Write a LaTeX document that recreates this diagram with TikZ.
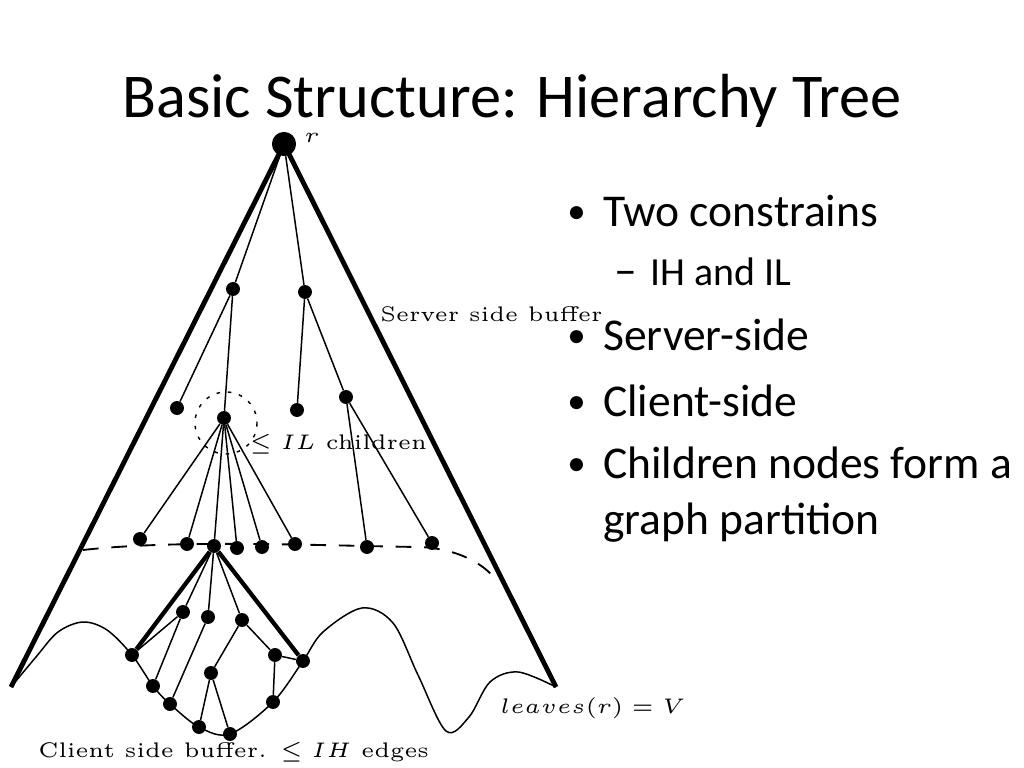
\documentclass[tikz,border=0pt]{standalone}
\usepackage{fontspec}
\usepackage{graphicx}
\newfontfamily\slidefont{Carlito}
\newcommand{\cmtext}[1]{\scalebox{2.97}{\tiny #1}}

\begin{document}
\begin{tikzpicture}[
  x=0.703125pt, y=-0.703125pt,
  dot/.style={circle,fill,inner sep=0pt,minimum size=9.8pt},
  rootdot/.style={dot,minimum size=17pt},
  tedge/.style={line width=1.05pt},
  fatedge/.style={line width=3pt},
  hull/.style={line width=3.4pt,line join=miter},
  cut/.style={line width=1.3pt,dash pattern=on 11pt off 9pt},
  ring/.style={line width=1pt,dash pattern=on 2.5pt off 5.5pt},
  cmlabel/.style={inner sep=0pt,anchor=base west},
  slidetitle/.style={inner sep=0pt,anchor=base,font=\slidefont\fontsize{43.8}{53}\selectfont},
  item/.style={inner sep=0pt,anchor=base west,font=\slidefont\fontsize{32}{38}\selectfont},
  subitem/.style={item,font=\slidefont\fontsize{28}{34}\selectfont},
  bulletmark/.style={item,font=\slidefont\fontsize{26}{31}\selectfont},
]
\useasboundingbox (0,0) rectangle (1024,768);

% title
\node[slidetitle] (title) at (512,118) {Basic Structure: Hierarchy Tree};

% server side of the tree
\node[rootdot] (r) at (284,144) {};
\node[dot] (a) at (233,289) {};
\node[dot] (b) at (305,292) {};
\node[dot] (c) at (177,408) {};
\node[dot] (d) at (224,418) {};
\node[dot] (e) at (297,410) {};
\node[dot] (f) at (346,397) {};
\foreach \n/\x/\y in {g1/140/539, g2/187/544, g3/214/546, g4/237/548,
                      g5/262/547, g6/295/544, g7/367/547, g8/432/543}
  \node[dot] (\n) at (\x,\y) {};

% client side graph
\foreach \n/\x/\y in {h1/183/612, h2/208/617, h3/242/620, l1/132/655,
                      m/211/673, q1/275/655, q2/303/661, q3/273/702,
                      k1/153/686, k2/170/704, k3/199/727, k4/230/734}
  \node[dot] (\n) at (\x,\y) {};

\coordinate (bl) at (11,687);
\coordinate (br) at (556,687);
\draw[hull] (bl) -- (r.center) -- (br);

\draw[tedge] (r) -- (a) (r) -- (b) (a) -- (c) (a) -- (d) (b) -- (e) (b) -- (f);
\foreach \n in {g1,g2,g3,g4,g5,g6}
  \draw[tedge] (d) -- (\n);
\draw[tedge] (f) -- (g7) (f) -- (g8);

\draw[fatedge] (g3) -- (l1) (g3) -- (q2);
\draw[tedge] (g3) -- (h1) (g3) -- (h2) (g3) -- (h3)
  (h1) -- (l1) (h1) -- (k1) (h2) -- (k2) (h3) -- (m) (h3) -- (q1)
  (m) -- (k3) (m) -- (k4) (q1) -- (q2) (q1) -- (q3);

% cut between server and client buffer
\draw[cut] (83,550) .. controls (180,539) and (330,546) .. (420,547)
  .. controls (460,549) and (485,565) .. (496,580);
\draw[ring] (226,423) circle[radius=31];

% leaves
\draw[tedge] plot[smooth,tension=0.55] coordinates {(bl) (36,657) (58,632)
  (83,622) (107,630) (l1) (k1) (k2) (k3) (k4) (q3) (q2) (323,632) (362,608)
  (393,623) (418,675) (446,731) (469,717) (490,682) (518,672) (br)};

\node[cmlabel] (rlabel) at (304,143) {\cmtext{$r$}};
\node[cmlabel] (server) at (380,322) {\cmtext{Server side buffer}};
\node[cmlabel] (illabel) at (249,449) {\cmtext{$\leq IL$ children}};
\node[cmlabel] (leaves) at (500,713) {\cmtext{$leaves(r) = V$}};
\node[cmlabel] (client) at (38,757) {\cmtext{Client side buffer. $\leq IH$ edges}};

% bullets
\foreach \y/\t in {227/Two constrains, 350/Server-side, 416/Client-side,
                   478/Children nodes form a}{
  \node[bulletmark] at (567,\y-3) {•};
  \node[item] at (603,\y) {\t};
}
\node[item] (wrap) at (603,534) {graph partition};
\node[item] (dash) at (614,285) {–};
\node[subitem] (sub) at (650,285) {IH and IL};
\end{tikzpicture}
\end{document}
